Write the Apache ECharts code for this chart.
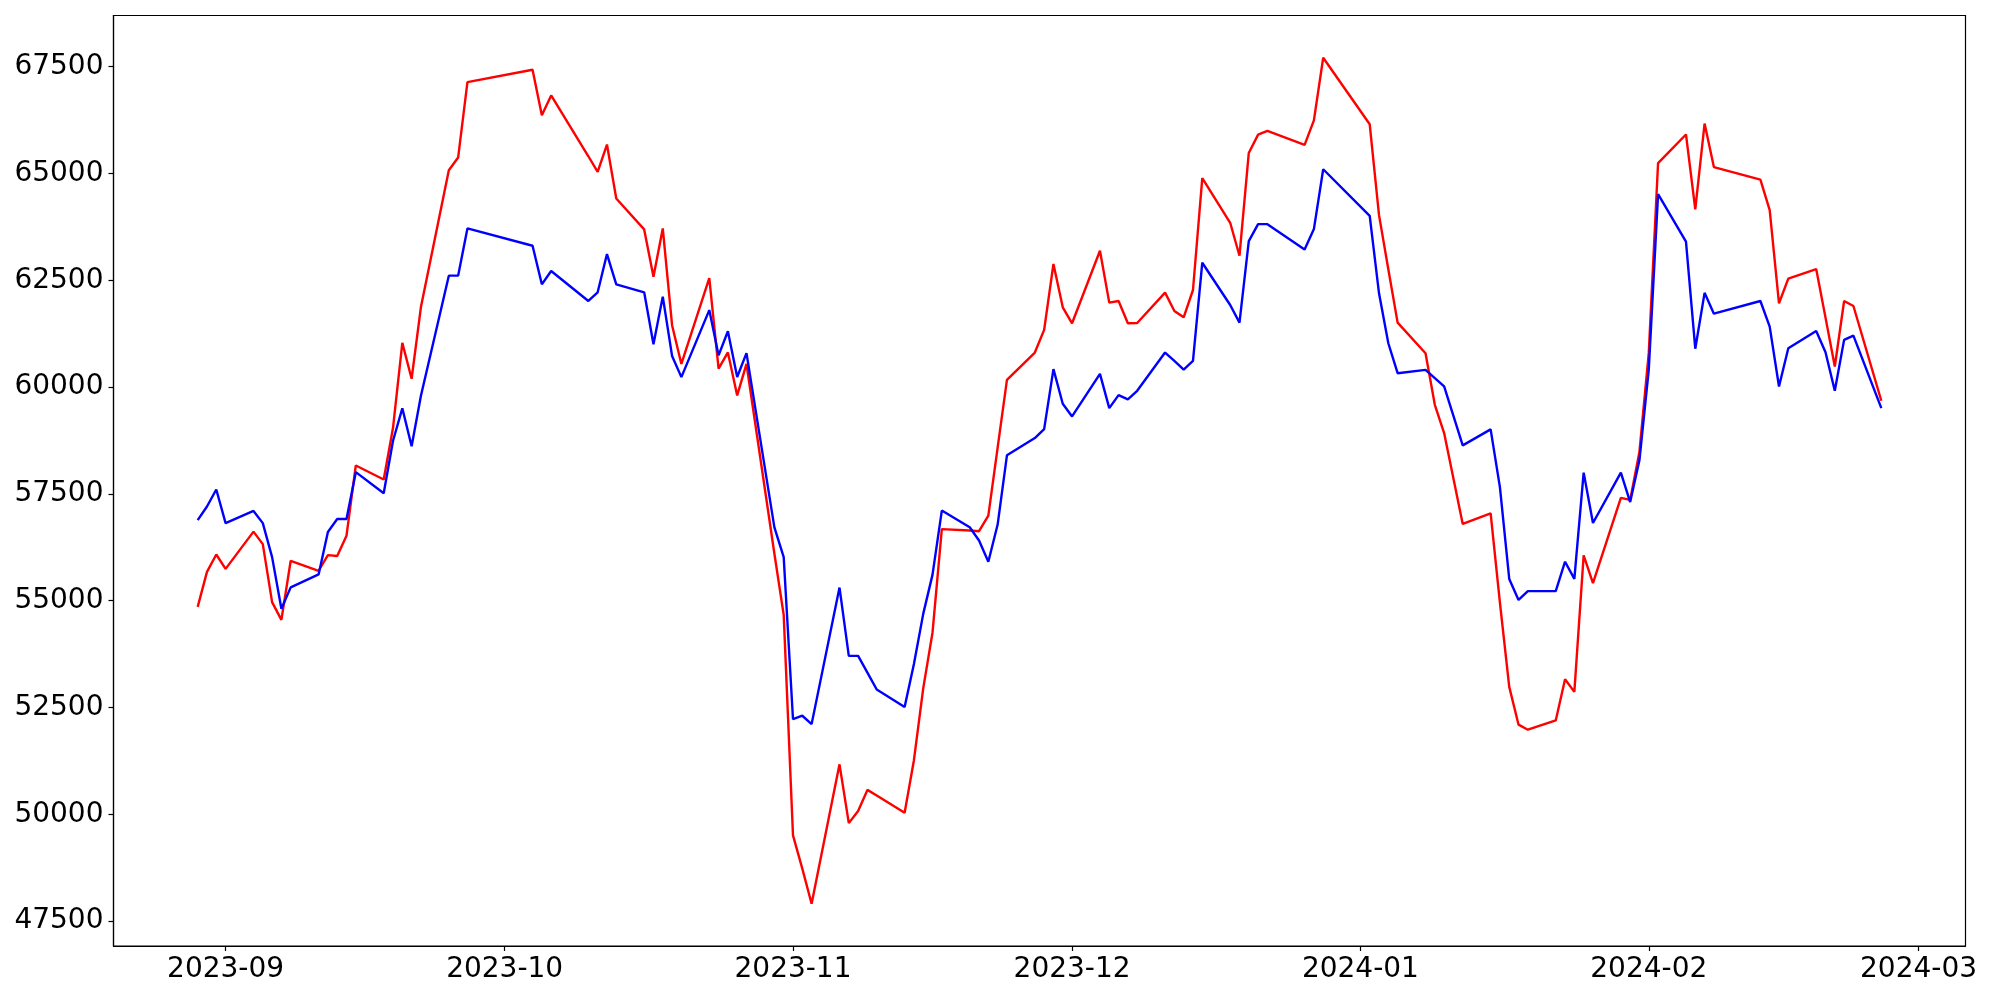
<!DOCTYPE html>
<html>
<head>
<meta charset="utf-8">
<script src="https://cdn.jsdelivr.net/npm/echarts@6/dist/echarts.min.js"></script>
<style>
  html, body { margin: 0; padding: 0; background: #fff; }
  #chart { width: 2000px; height: 1000px; }
</style>
</head>
<body>
<div id="chart"></div>
<script>
// trading days
const dates = [
  '2023-08-29','2023-08-30','2023-08-31','2023-09-01','2023-09-04','2023-09-05','2023-09-06','2023-09-07','2023-09-08',
  '2023-09-11','2023-09-12','2023-09-13','2023-09-14','2023-09-15','2023-09-18','2023-09-19','2023-09-20','2023-09-21',
  '2023-09-22','2023-09-25','2023-09-26','2023-09-27','2023-10-04','2023-10-05','2023-10-06','2023-10-10','2023-10-11',
  '2023-10-12','2023-10-13','2023-10-16','2023-10-17','2023-10-18','2023-10-19','2023-10-20','2023-10-23','2023-10-24',
  '2023-10-25','2023-10-26','2023-10-27','2023-10-30','2023-10-31','2023-11-01','2023-11-02','2023-11-03','2023-11-06',
  '2023-11-07','2023-11-08','2023-11-09','2023-11-10','2023-11-13','2023-11-14','2023-11-15','2023-11-16','2023-11-17',
  '2023-11-20','2023-11-21','2023-11-22','2023-11-23','2023-11-24','2023-11-27','2023-11-28','2023-11-29','2023-11-30',
  '2023-12-01','2023-12-04','2023-12-05','2023-12-06','2023-12-07','2023-12-08','2023-12-11','2023-12-12','2023-12-13',
  '2023-12-14','2023-12-15','2023-12-18','2023-12-19','2023-12-20','2023-12-21','2023-12-22','2023-12-26','2023-12-27',
  '2023-12-28','2024-01-02','2024-01-03','2024-01-04','2024-01-05','2024-01-08','2024-01-09','2024-01-10','2024-01-12',
  '2024-01-15','2024-01-16','2024-01-17','2024-01-18','2024-01-19','2024-01-22','2024-01-23','2024-01-24','2024-01-25',
  '2024-01-26','2024-01-29','2024-01-30','2024-01-31','2024-02-01','2024-02-02','2024-02-05','2024-02-06','2024-02-07',
  '2024-02-08','2024-02-13','2024-02-14','2024-02-15','2024-02-16','2024-02-19','2024-02-20','2024-02-21','2024-02-22',
  '2024-02-23','2024-02-26'
];

const redValues = [
  54855, 55675, 56082, 55745, 56617, 56325, 54967, 54552, 55935,
  55701, 56066, 56047, 56523, 58166, 57837, 59047, 61035, 60196,
  61874, 65077, 65374, 67141, 67430, 66362, 66829, 65404, 65038,
  65678, 64416, 63692, 62584, 63715, 61450, 60542, 62554, 60435,
  60811, 59805, 60542, 56100, 54669, 49505, 48727, 47907, 51169,
  49793, 50077, 50571, 50440, 50038, 51267, 52947, 54257, 56675,
  56642, 56627, 56993, 58582, 60170, 60809, 61339, 62881, 61868,
  61494, 63192, 61977, 62016, 61494, 61502, 62211, 61783, 61635,
  62273, 64890, 63847, 63076, 65482, 65910, 65996, 65669, 66245,
  67709, 66152, 64026, 62760, 61510, 60794, 59586, 58925, 56798,
  57044, 54950, 52983, 52098, 51980, 52197, 53160, 52865, 56061,
  55412, 57408, 57359, 58490, 60801, 65245, 65914, 64163, 66170,
  65150, 64859, 64142, 61962, 62538, 62764, 61627, 60482, 62016,
  61899, 59680
];

const blueValues = [
  56885, 57205, 57603, 56816, 57101, 56816, 56021, 54811, 55312,
  55615, 56609, 56911, 56911, 58009, 57516, 58744, 59504, 58614,
  59798, 62609, 62609, 63714, 63309, 62406, 62718, 62017, 62219,
  63115, 62406, 62219, 61004, 62118, 60730, 60234, 61803, 60743,
  61307, 60237, 60797, 56716, 56020, 52225, 52307, 52111, 55307,
  53709, 53709, 53315, 52922, 52512, 53520, 54692, 55610, 57110,
  56720, 56409, 55910, 56783, 58403, 58807, 59018, 60420, 59610,
  59314, 60311, 59508, 59812, 59711, 59913, 60809, 60614, 60412,
  60614, 62912, 61923, 61510, 63418, 63815, 63815, 63223, 63699,
  65100, 64010, 62195, 61027, 60326, 60404, 60210, 60015, 58637,
  59011, 57654, 55510, 55019, 55225, 55225, 55913, 55510, 57998,
  56818, 57998, 57310, 58293, 60407, 64517, 63406, 60899, 62207,
  61720, 62016, 61416, 60015, 60910, 61315, 60817, 59913, 61105,
  61206, 59508
];

const yTicks = [47500, 50000, 52500, 55000, 57500, 60000, 62500, 65000, 67500];
const xTicks = ['2023-09-01', '2023-10-01', '2023-11-01', '2023-12-01', '2024-01-01', '2024-02-01', '2024-03-01'];

const toTime = s => {
  const p = s.split('-');
  return Date.UTC(+p[0], +p[1] - 1, +p[2]);
};
const fmtMonth = v => {
  const d = new Date(v);
  return d.getUTCFullYear() + '-' + String(d.getUTCMonth() + 1).padStart(2, '0');
};

const times = dates.map(toTime);
// matplotlib style 5% margins
const tMin = Math.min(...times), tMax = Math.max(...times);
const tPad = (tMax - tMin) * 0.05;
const allVals = redValues.concat(blueValues);
const vMin = Math.min(...allVals), vMax = Math.max(...allVals);
const vPad = (vMax - vMin) * 0.05;

const fontBase = { fontFamily: 'DejaVu Sans', fontSize: 28, color: '#000' };

var myChart = echarts.init(document.getElementById('chart'));
var option = {
  animation: false,
  backgroundColor: '#fff',
  grid: {
    left: 113.5,
    right: 34.5,
    top: 15.5,
    bottom: 54,
    show: true,
    borderColor: '#000',
    borderWidth: 1.2,
    containLabel: false
  },
  xAxis: {
    // timestamps on a value axis so the month ticks can be placed exactly
    type: 'value',
    min: tMin - tPad,
    max: tMax + tPad,
    axisLine: { show: true, onZero: false, lineStyle: { color: '#000', width: 1.2 } },
    axisTick: {
      show: true,
      inside: false,
      length: 5,
      lineStyle: { color: '#000', width: 1.2 },
      customValues: xTicks.map(toTime)
    },
    axisLabel: Object.assign({
      margin: 10,
      customValues: xTicks.map(toTime),
      formatter: fmtMonth
    }, fontBase),
    splitLine: { show: false }
  },
  yAxis: {
    type: 'value',
    min: vMin - vPad,
    max: vMax + vPad,
    axisLine: { show: true, onZero: false, lineStyle: { color: '#000', width: 1.2 } },
    axisTick: {
      show: true,
      inside: false,
      length: 5,
      lineStyle: { color: '#000', width: 1.2 },
      customValues: yTicks
    },
    axisLabel: Object.assign({
      margin: 10,
      customValues: yTicks,
      formatter: v => String(v)
    }, fontBase),
    splitLine: { show: false }
  },
  series: [
    {
      name: 'red',
      type: 'line',
      data: times.map((t, i) => [t, redValues[i]]),
      showSymbol: false,
      symbol: 'none',
      lineStyle: { color: '#ff0000', width: 2.4 },
      itemStyle: { color: '#ff0000' },
      z: 2
    },
    {
      name: 'blue',
      type: 'line',
      data: times.map((t, i) => [t, blueValues[i]]),
      showSymbol: false,
      symbol: 'none',
      lineStyle: { color: '#0000ff', width: 2.4 },
      itemStyle: { color: '#0000ff' },
      z: 3
    }
  ]
};
myChart.setOption(option);
</script>
</body>
</html>
